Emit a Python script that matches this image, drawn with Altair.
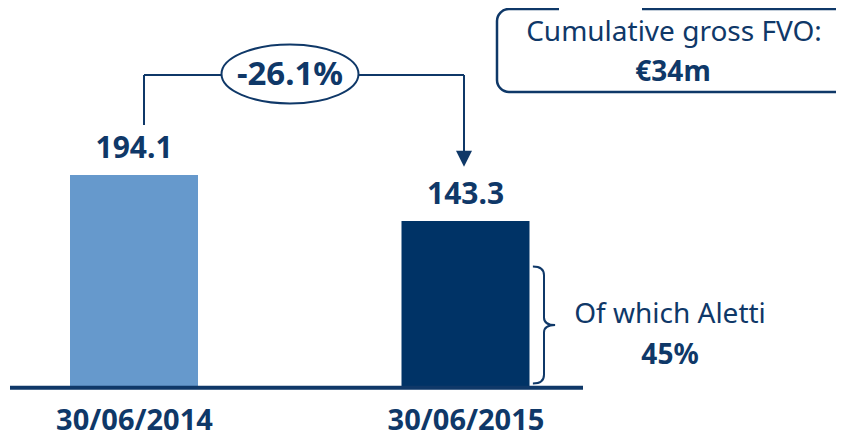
import altair as alt
import pandas as pd

# ---- data ----
dates = ["30/06/2014", "30/06/2015"]
values = [194.1, 143.3]
bar_colors = ["#6699CC", "#003366"]
change_label = ["-26.1%"]
callout_lines = ["Cumulative gross FVO:", "€34m"]
aletti_lines = ["Of which Aletti", "45%"]

NAVY = "#0F3868"
FONT = "Noto Sans"
Y_MIN, Y_MAX = -38.92, 378.52

df = pd.DataFrame({"date": dates, "value": values})
one = pd.DataFrame({"k": [0]})

xscale = alt.Scale(type="point", range=[126, 457.5], padding=0)
yscale = alt.Scale(domain=[Y_MIN, Y_MAX])

base = alt.Chart(df)

bars = base.mark_bar(size=128).encode(
    x=alt.X("date:O", sort=dates, scale=xscale,
            axis=alt.Axis(title=None, labelAngle=0, ticks=False, domain=False,
                          labelFont=FONT, labelFontSize=29, labelFontWeight="bold",
                          labelColor=NAVY, labelPadding=20, grid=False)),
    y=alt.Y("value:Q", scale=yscale, axis=None),
    y2=alt.datum(Y_MIN),
    color=alt.Color("date:N", scale=alt.Scale(domain=dates, range=bar_colors), legend=None),
)

value_labels = base.mark_text(dy=-26, font=FONT, fontSize=30, fontWeight="bold",
                              color=NAVY, baseline="middle", align="center").encode(
    x=alt.X("date:O", sort=dates, scale=xscale),
    y=alt.Y("value:Q", scale=yscale),
    text=alt.Text("value:Q", format=".1f"),
)

baseline_rule = alt.Chart(one).mark_rule(color=NAVY, strokeWidth=4).encode(
    x=alt.value(2), x2=alt.value(575), y=alt.value(379.7))


def rule(x1, x2, y1, y2, color=NAVY, w=2):
    return alt.Chart(one).mark_rule(color=color, strokeWidth=w).encode(
        x=alt.value(x1), x2=alt.value(x2), y=alt.value(y1), y2=alt.value(y2))


def label(text, x, y, size, bold=False):
    return alt.Chart(pd.DataFrame({"t": [text]})).mark_text(
        font=FONT, fontSize=size, fontWeight="bold" if bold else "normal",
        color=NAVY, align="center", baseline="middle").encode(
        x=alt.value(x), y=alt.value(y), text="t:N")


# connector with arrow
conn_h = rule(136, 456, 67, 67)
conn_l = rule(136, 136, 67, 117)
conn_r = rule(456, 456, 67, 144)
arrow = alt.Chart(one).mark_point(shape="M -1 -1 L 1 -1 L 0 1 Z", size=256, filled=True,
                                  color=NAVY, opacity=1).encode(
    x=alt.value(456), y=alt.value(150.7))

ELLIPSE = "M -1 0 A 1 0.43 0 1 1 1 0 A 1 0.43 0 1 1 -1 0 Z"
ellipse = alt.Chart(one).mark_point(shape=ELLIPSE, size=137 ** 2, fill="white", fillOpacity=1,
                                    stroke=NAVY, strokeWidth=2, opacity=1).encode(
    x=alt.value(282), y=alt.value(66))
change_text = label(change_label[0], 282, 67, 33, bold=True)

# callout box
box = alt.Chart(one).mark_rect(cornerRadius=12, fill="white", stroke=NAVY, strokeWidth=2.5).encode(
    x=alt.value(489), x2=alt.value(870), y=alt.value(1), y2=alt.value(84))
box_gap = rule(551, 634, 1, 1, color="white", w=4)
callout1 = label(callout_lines[0], 666, 25, 28)
callout2 = label(callout_lines[1], 665, 65, 28, bold=True)

# brace
BRACE = ("M -0.19 -1 Q 0 -1 0 -0.85 L 0 -0.13 Q 0 0 0.19 0 "
         "Q 0 0 0 0.13 L 0 0.85 Q 0 1 -0.19 1")
brace = alt.Chart(one).mark_point(shape=BRACE, size=117 ** 2, filled=False, stroke=NAVY,
                                  strokeWidth=2, opacity=1).encode(
    x=alt.value(536), y=alt.value(317))
aletti1 = label(aletti_lines[0], 662, 307, 28)
aletti2 = label(aletti_lines[1], 662, 348, 28, bold=True)

chart = alt.layer(
    bars, baseline_rule, value_labels,
    conn_h, conn_l, conn_r, arrow, ellipse, change_text,
    box, box_gap, callout1, callout2,
    brace, aletti1, aletti2,
).properties(
    width=828, height=378,
    background="white",
    autosize=alt.AutoSizeParams(type="none"),
    padding={"left": 0, "top": 0, "right": 0, "bottom": 48},
).configure_view(stroke=None)

chart.save("out.html", embed_options={"renderer": "svg", "actions": False})
